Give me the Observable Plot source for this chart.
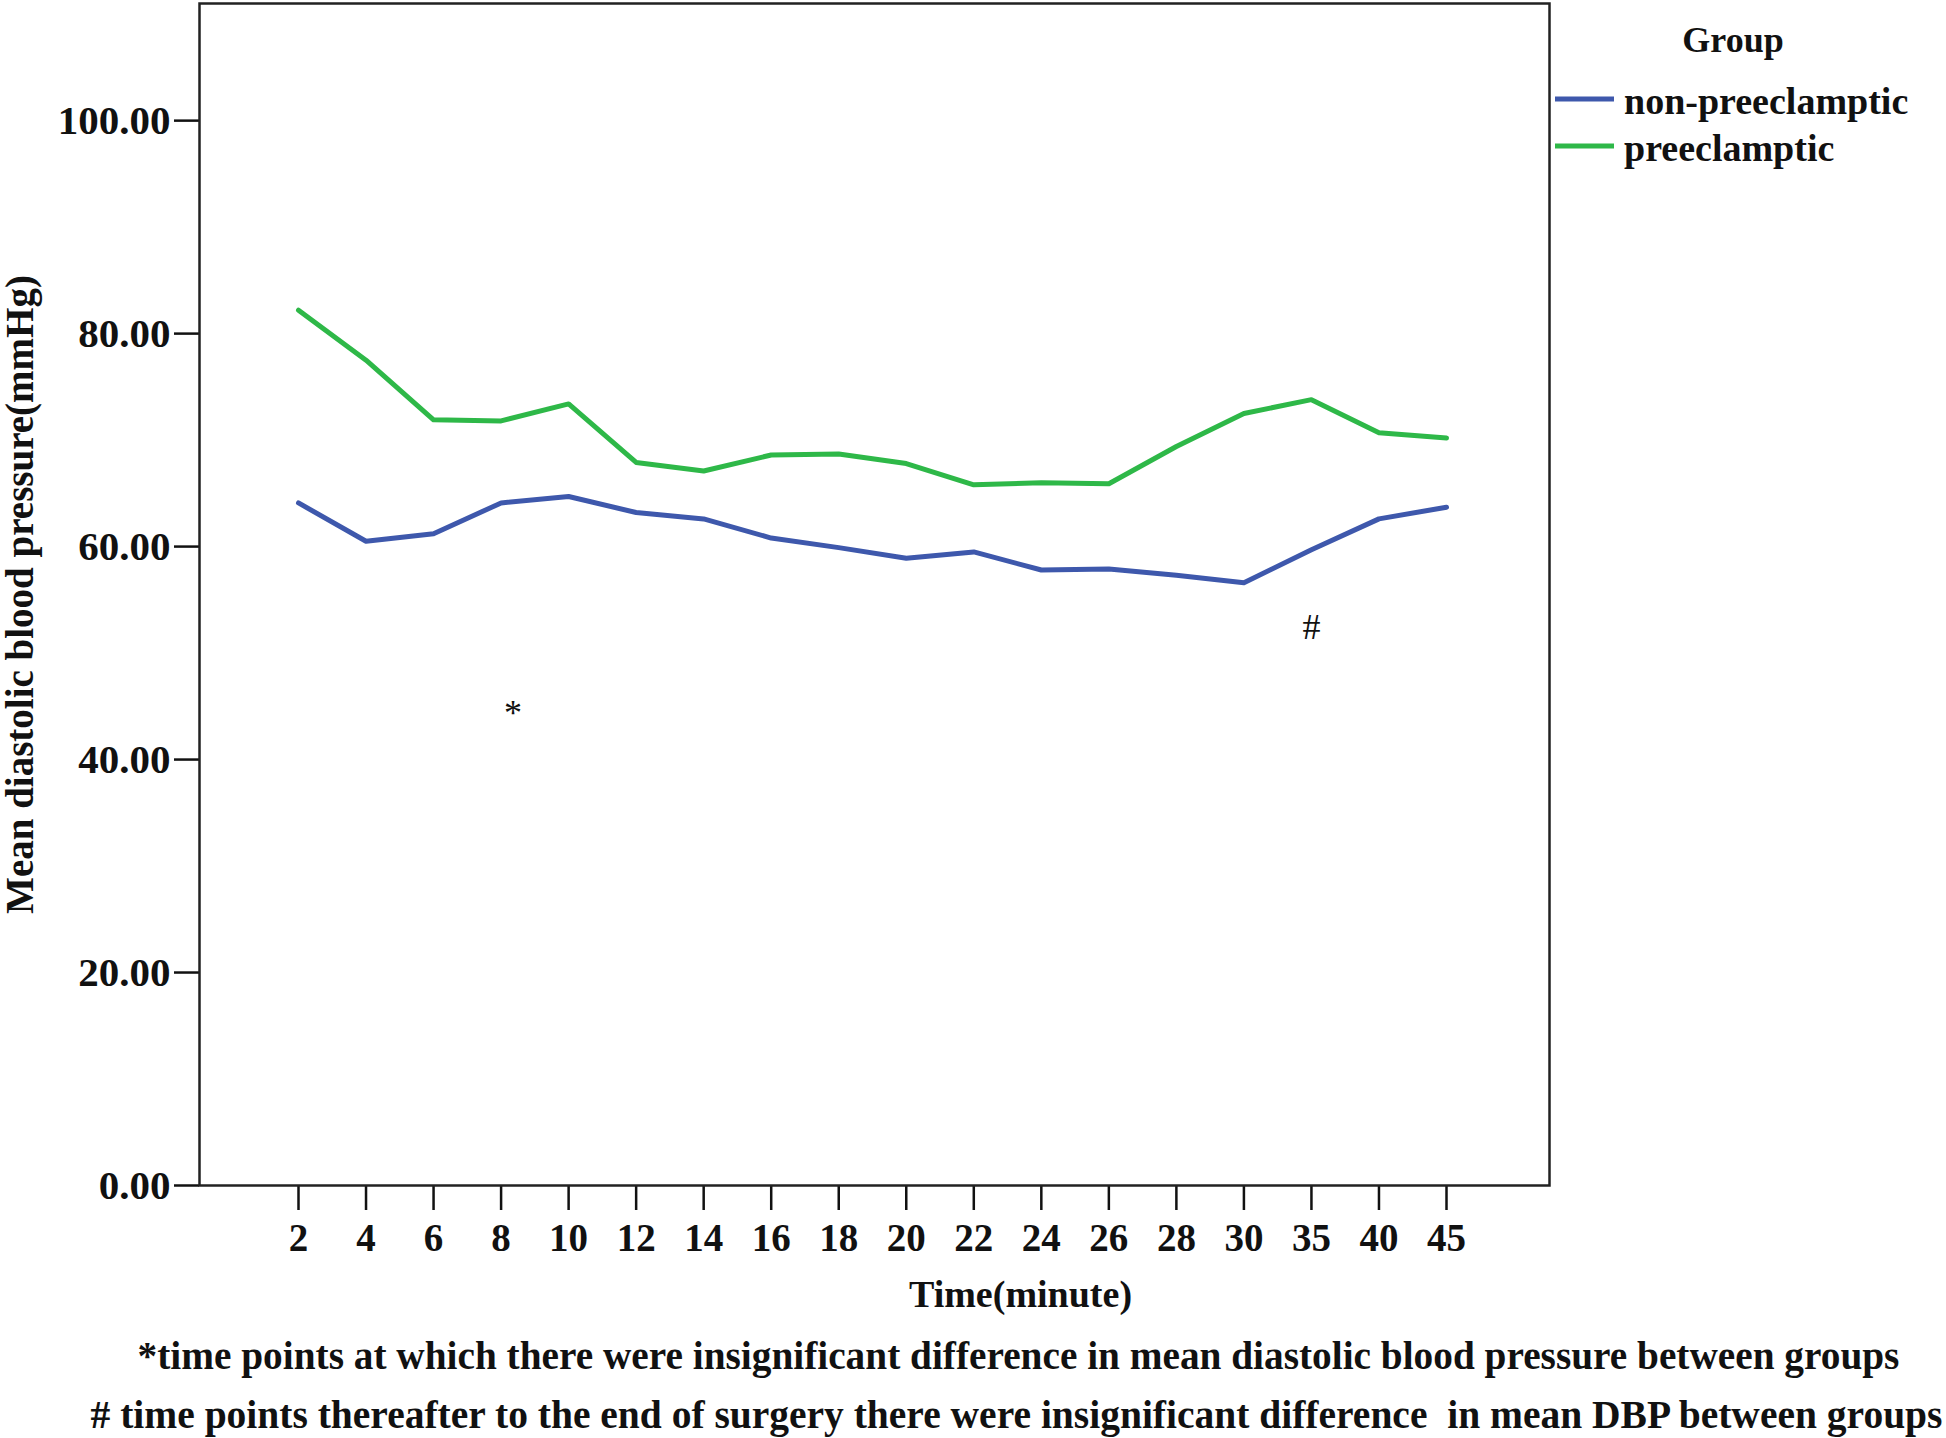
<!DOCTYPE html>
<html><head><meta charset="utf-8">
<script src="https://cdn.jsdelivr.net/npm/d3@7"></script>
<script src="https://cdn.jsdelivr.net/npm/@observablehq/plot@0.6"></script>
<style>
html,body{margin:0;padding:0;background:#fff;}
#wrap{position:relative;width:1946px;height:1438px;overflow:hidden;}
#legend{position:absolute;left:0;top:0;}
</style></head><body><div id="wrap"></div>
<script>
const times = [2,4,6,8,10,12,14,16,18,20,22,24,26,28,30,35,40,45];
const groups = ["non-preeclamptic","preeclamptic"];
const nonPreeclampticDBP = [64.1,60.5,61.2,64.1,64.7,63.2,62.6,60.8,59.9,58.9,59.5,57.8,57.9,57.3,56.6,59.7,62.6,63.7];
const preeclampticDBP = [82.2,77.5,71.9,71.8,73.4,67.9,67.1,68.6,68.7,67.8,65.8,66.0,65.9,69.4,72.5,73.8,70.7,70.2];
const colors = ["#3E58AC","#2EB848"];
const yTicks = [0,20,40,60,80,100];
const yLabel = "Mean diastolic blood pressure(mmHg)";
const xLabel = "Time(minute)";
const legendTitle = "Group";
const note1 = "*time points at which there were insignificant difference in mean diastolic blood pressure between groups";
const note2 = "# time points thereafter to the end of surgery there were insignificant difference  in mean DBP between groups";
const annotations = [{time:8, value:44.3, text:"*"},{time:35, value:52.4, text:"#"}];

const series = [nonPreeclampticDBP, preeclampticDBP];
const data = [];
groups.forEach((g, gi) => times.forEach((t, i) => data.push({group:g, time:t, value:series[gi][i]})));

const font = "'Liberation Serif', 'Times New Roman', serif";
const chart = Plot.plot({
  width:1946, height:1438,
  marginLeft:199, marginRight:397, marginTop:3, marginBottom:253,
  style:{fontFamily:font, fontSize:"38px", fontWeight:"bold", color:"#111", background:"#fff"},
  x:{type:"point", domain:times, range:[298, 1446], padding:0, round:false},
  y:{domain:[0,111]},
  color:{domain:groups, range:colors},
  marks:[
    Plot.axisY({ticks:yTicks, tickFormat:d=>d.toFixed(2), tickSize:25, tickPadding:4, label:null, strokeWidth:2.5, fontSize:41}),
    Plot.axisX({tickSize:25, tickPadding:13, label:null, strokeWidth:2.5, fontSize:39}),
    Plot.frame({stroke:"#222", strokeWidth:2.5}),
    Plot.line(data, {x:"time", y:"value", z:"group", stroke:"group", strokeWidth:5}),
    Plot.text(annotations, {x:"time", y:"value", text:"text", dx:12, fontSize:36, fontWeight:"normal", lineAnchor:"middle", filter:d=>d.text==="*"}),
    Plot.text(annotations, {x:"time", y:"value", text:"text", fontSize:36, fontWeight:"normal", lineAnchor:"middle", filter:d=>d.text==="#"}),
    Plot.text([yLabel], {frameAnchor:"left", textAnchor:"middle", rotate:-90, dx:-167, lineAnchor:"bottom", fontSize:39, fontWeight:"bold"}),
    Plot.text([xLabel], {frameAnchor:"bottom", dx:146, dy:121, lineAnchor:"bottom", fontSize:38, fontWeight:"bold"}),
    Plot.text([note1], {frameAnchor:"bottom", dx:144, dy:183, lineAnchor:"bottom", fontSize:39.3, fontWeight:"bold"}),
    Plot.text([note2], {frameAnchor:"bottom", dx:142, dy:242, lineAnchor:"bottom", fontSize:39.5, fontWeight:"bold"})
  ]
});
document.getElementById("wrap").appendChild(chart);

// Legend overlay
const leg = d3.select("#wrap").append("svg").attr("id","legend")
  .attr("width",1946).attr("height",300)
  .style("font-family", font).style("font-weight","bold");
leg.append("text").attr("x",1733).attr("y",52).attr("text-anchor","middle")
  .attr("font-size",36).attr("fill","#111").text(legendTitle);
groups.forEach((g, i) => {
  const y = 99 + i*47;
  leg.append("line").attr("x1",1555).attr("x2",1614).attr("y1",y).attr("y2",y)
    .attr("stroke",colors[i]).attr("stroke-width",5);
  leg.append("text").attr("x",1624).attr("y",y+15).attr("font-size",38).attr("fill","#111").text(g);
});
</script></body></html>
